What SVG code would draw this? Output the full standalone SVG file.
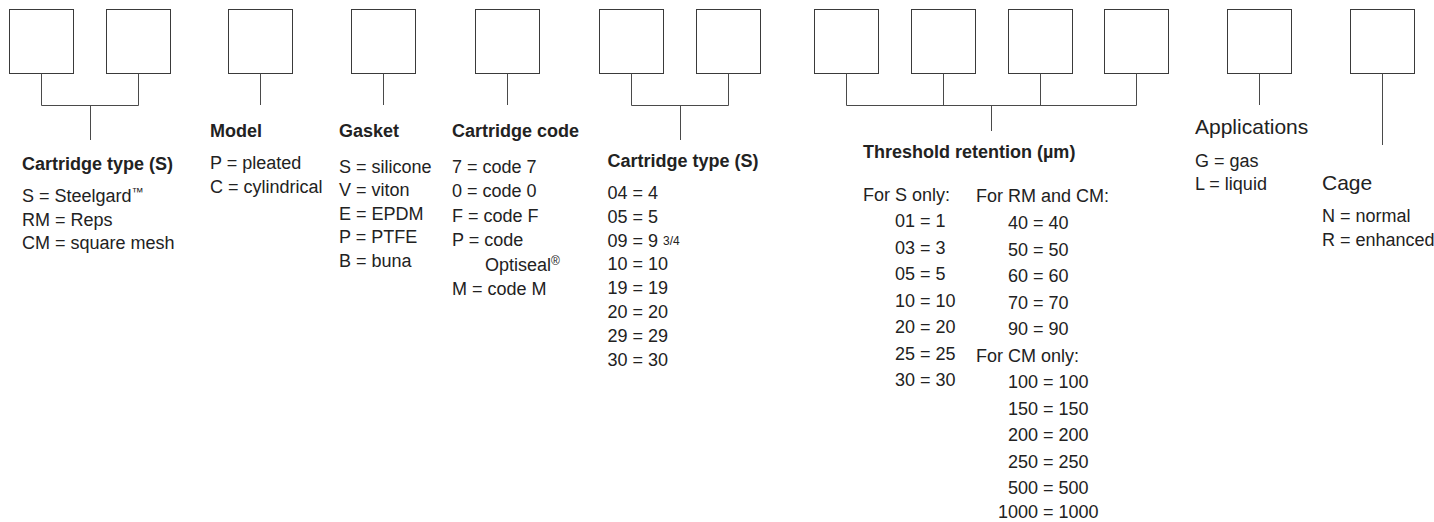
<svg xmlns="http://www.w3.org/2000/svg" width="1434" height="522" viewBox="0 0 1434 522">
  <style>
    .box { fill: #ffffff; stroke: #3a3a3a; stroke-width: 1; }
    .wire { fill: none; stroke: #4a4a4a; stroke-width: 1; }
    text { font-family: "Liberation Sans", Arial, sans-serif; fill: #222222; font-size: 18px; }
    .head { font-weight: bold; }
    .big { font-size: 21px; }
    .small { font-size: 12px; }
  </style>
  <rect width="1434" height="522" fill="#ffffff"/>

  <!-- code position boxes -->
  <g id="boxes">
    <rect id="box-1" class="box" x="9.5" y="9.5" width="64" height="64"/>
    <rect id="box-2" class="box" x="106.5" y="9.5" width="64" height="64"/>
    <rect id="box-3" class="box" x="228.5" y="9.5" width="64" height="64"/>
    <rect id="box-4" class="box" x="351.5" y="9.5" width="64" height="64"/>
    <rect id="box-5" class="box" x="475.5" y="9.5" width="64" height="64"/>
    <rect id="box-6" class="box" x="599.5" y="9.5" width="64" height="64"/>
    <rect id="box-7" class="box" x="696.5" y="9.5" width="64" height="64"/>
    <rect id="box-8" class="box" x="814.5" y="9.5" width="64" height="64"/>
    <rect id="box-9" class="box" x="911.5" y="9.5" width="64" height="64"/>
    <rect id="box-10" class="box" x="1008.5" y="9.5" width="64" height="64"/>
    <rect id="box-11" class="box" x="1104.5" y="9.5" width="64" height="64"/>
    <rect id="box-12" class="box" x="1227.5" y="9.5" width="64" height="64"/>
    <rect id="box-13" class="box" x="1350.5" y="9.5" width="64" height="64"/>
  </g>

  <!-- brackets joining boxes to their legends -->
  <g id="connectors" class="wire">
    <path d="M41.5 73.5 V105.5 H138.5 V73.5 M90.5 105.5 V140"/>
    <path d="M260.5 73.5 V105"/>
    <path d="M383.5 73.5 V105"/>
    <path d="M507.5 73.5 V105"/>
    <path d="M631.5 73.5 V105.5 H728.5 V73.5 M680.5 105.5 V140"/>
    <path d="M846.5 73.5 V105.5 H1136.5 V73.5 M943.5 73.5 V105.5 M1040.5 73.5 V105.5 M991.5 105.5 V131"/>
    <path d="M1259.5 73.5 V105"/>
    <path d="M1382.5 73.5 V145"/>
  </g>

  <g id="cartridge-type">
    <text class="head" x="22" y="170">Cartridge type (S)</text>
    <text x="22" y="202">S = Steelgard<tspan class="small" dy="-6">™</tspan></text>
    <text x="22" y="225.5">RM = Reps</text>
    <text x="22" y="249">CM = square mesh</text>
  </g>

  <g id="model">
    <text class="head" x="210" y="137">Model</text>
    <text x="210" y="169">P = pleated</text>
    <text x="210" y="192.5">C = cylindrical</text>
  </g>

  <g id="gasket">
    <text class="head" x="339" y="137">Gasket</text>
    <text x="339" y="172.5">S = silicone</text>
    <text x="339" y="196">V = viton</text>
    <text x="339" y="219.5">E = EPDM</text>
    <text x="339" y="243">P = PTFE</text>
    <text x="339" y="266.5">B = buna</text>
  </g>

  <g id="cartridge-code">
    <text class="head" x="452" y="137">Cartridge code</text>
    <text x="452" y="172.5">7 = code 7</text>
    <text x="452" y="197">0 = code 0</text>
    <text x="452" y="221.5">F = code F</text>
    <text x="452" y="246">P = code</text>
    <text x="485" y="270.5">Optiseal<tspan class="small" dy="-6">®</tspan></text>
    <text x="452" y="295">M = code M</text>
  </g>

  <g id="cartridge-size">
    <text class="head" x="607.5" y="167">Cartridge type (S)</text>
    <text x="607.5" y="199">04 = 4</text>
    <text x="607.5" y="222.8">05 = 5</text>
    <text x="607.5" y="246.6">09 = 9 <tspan class="small" dy="-2">3/4</tspan></text>
    <text x="607.5" y="270.4">10 = 10</text>
    <text x="607.5" y="294.2">19 = 19</text>
    <text x="607.5" y="318">20 = 20</text>
    <text x="607.5" y="341.8">29 = 29</text>
    <text x="607.5" y="365.6">30 = 30</text>
  </g>

  <g id="threshold-retention">
    <text class="head" x="863" y="158">Threshold retention (µm)</text>
    <text x="863" y="200.7">For S only:</text>
    <text x="895" y="227.3">01 = 1</text>
    <text x="895" y="253.8">03 = 3</text>
    <text x="895" y="280.3">05 = 5</text>
    <text x="895" y="306.8">10 = 10</text>
    <text x="895" y="333.3">20 = 20</text>
    <text x="895" y="359.8">25 = 25</text>
    <text x="895" y="386.3">30 = 30</text>
    <text x="976" y="202.3">For RM and CM:</text>
    <text x="1008" y="229">40 = 40</text>
    <text x="1008" y="255.6">50 = 50</text>
    <text x="1008" y="282.2">60 = 60</text>
    <text x="1008" y="308.8">70 = 70</text>
    <text x="1008" y="335.4">90 = 90</text>
    <text x="976" y="362">For CM only:</text>
    <text x="1008" y="388.4">100 = 100</text>
    <text x="1008" y="414.8">150 = 150</text>
    <text x="1008" y="441.2">200 = 200</text>
    <text x="1008" y="467.6">250 = 250</text>
    <text x="1008" y="494">500 = 500</text>
    <text x="998" y="518">1000 = 1000</text>
  </g>

  <g id="applications">
    <text class="big" x="1195" y="134">Applications</text>
    <text x="1195" y="167">G = gas</text>
    <text x="1195" y="190">L = liquid</text>
  </g>

  <g id="cage">
    <text class="big" x="1322" y="190">Cage</text>
    <text x="1322" y="222">N = normal</text>
    <text x="1322" y="245.5">R = enhanced</text>
  </g>
</svg>
